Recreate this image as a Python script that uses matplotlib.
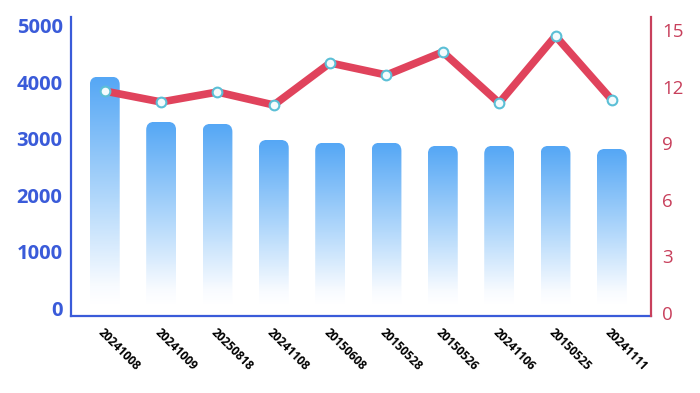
import matplotlib.pyplot as plt
import numpy as np
from matplotlib.patches import FancyBboxPatch
from matplotlib.colors import LinearSegmentedColormap

categories = ['20241008', '20241009', '20250818', '20241108', '20150608',
              '20150528', '20150526', '20241106', '20150525', '20241111']
bar_values = [4100, 3300, 3265, 2980, 2930, 2930, 2875, 2875, 2875, 2820]
line_values = [11.76, 11.18, 11.71, 11.02, 13.25, 12.61, 13.83, 11.13, 14.68, 11.29]
left_ticks = [0, 1000, 2000, 3000, 4000, 5000]
right_ticks = [0, 3, 6, 9, 12, 15]

blue_axis = '#3a5bd9'
red_axis = '#c8405c'
line_red = '#e0435c'

fig = plt.figure(figsize=(7, 3.93), dpi=100)
ax = fig.add_axes([0.1014, 0.196, 0.829, 0.761])

x = np.arange(len(categories))
bw = 0.53
xlim = (-0.6, 9.7)
ylim = (-140, 5160)

# invisible bars, then gradient images clipped to rounded boxes
bars = ax.bar(x, bar_values, width=bw, color='none')
cmap = LinearSegmentedColormap.from_list(
    'g', [(0, '#ffffff'), (0.08, '#f8fbff'), (0.45, '#b4d9fb'), (1, '#55a7f5')])
grad = np.linspace(0, 1, 256).reshape(-1, 1)

# rounding in data units: ~8px
px_x = 580 / (xlim[1] - xlim[0])
px_y = 299 / (ylim[1] - ylim[0])
r = 8 / px_x
aspect = px_x / px_y

for b in bars:
    x0 = b.get_x()
    h = b.get_height()
    patch = FancyBboxPatch((x0, -400), bw, h + 400,
                           boxstyle=f'round,pad=0,rounding_size={r}',
                           mutation_aspect=aspect, fc='none', ec='none')
    ax.add_patch(patch)
    im = ax.imshow(grad, cmap=cmap, extent=[x0, x0 + bw, 80, h], origin='lower',
                   aspect='auto', zorder=2, interpolation='bilinear')
    im.set_clip_path(patch)

ax.set_xlim(*xlim)
ax.set_ylim(*ylim)
ax.set_yticks(left_ticks)
ax.set_yticklabels([str(t) for t in left_ticks], color=blue_axis,
                   fontsize=14.5, fontweight='bold', family='Open Sans')
ax.set_xticks(x)
ax.set_xticklabels(categories, rotation=-45, ha='left', va='top',
                   rotation_mode='anchor', fontsize=8.5, fontweight='bold',
                   family='Open Sans')
ax.tick_params(axis='both', length=0)
ax.tick_params(axis='x', pad=7.5)
ax.tick_params(axis='y', pad=6)
for s in ['top', 'right']:
    ax.spines[s].set_visible(False)
ax.spines['left'].set_color(blue_axis)
ax.spines['bottom'].set_color(blue_axis)
ax.spines['left'].set_linewidth(1.6)
ax.spines['bottom'].set_linewidth(1.6)

ax2 = ax.twinx()
ax2.plot(x, line_values, color=line_red, lw=5.5, solid_capstyle='butt',
         marker='o', markersize=7, markerfacecolor='#f4fbfd',
         markeredgecolor='#5bbfd6', markeredgewidth=1.5, zorder=3)
ax2.set_ylim(-0.16, 15.69)
ax2.set_yticks(right_ticks)
ax2.set_yticklabels([str(t) for t in right_ticks], color=red_axis,
                    fontsize=13.5, family='Open Sans')
ax2.tick_params(axis='y', length=0, pad=8)
for s in ['top', 'left', 'bottom']:
    ax2.spines[s].set_visible(False)
ax2.spines['right'].set_color(red_axis)
ax2.spines['right'].set_linewidth(1.6)

fig.savefig('out.png', dpi=100)
